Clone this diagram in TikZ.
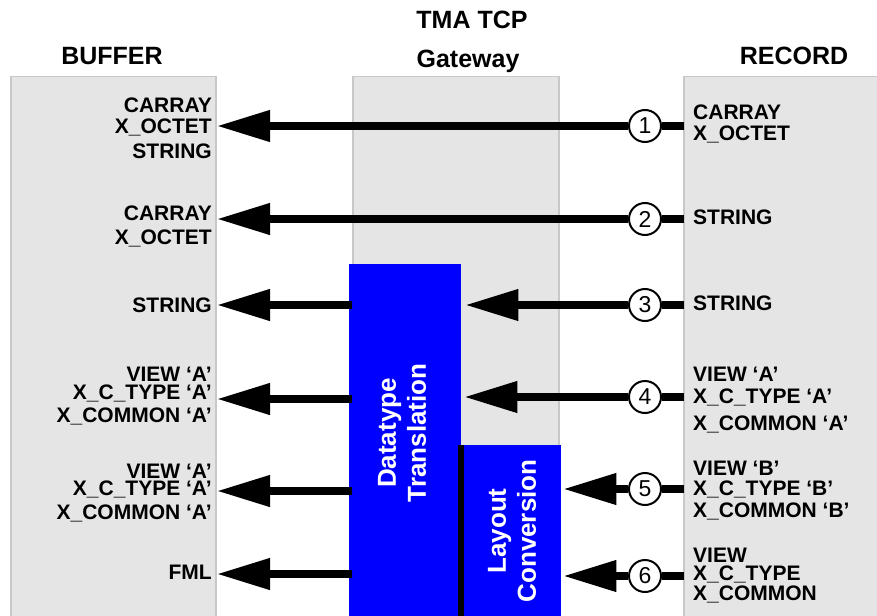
\documentclass[tikz,border=0pt]{standalone}
\usepackage{fontspec}
\setmainfont{Liberation Sans}
\usetikzlibrary{arrows.meta}

\definecolor{panelgray}{HTML}{E5E5E5}
\definecolor{panelline}{HTML}{C8C8C8}
\definecolor{stageblue}{HTML}{0000FF}

\newcommand\lblfont{\bfseries\fontsize{21}{18}\selectfont\lineskiplimit=-30pt\lineskip=0pt}

\begin{document}
\begin{tikzpicture}[x=1pt,y=-1pt,
		panel/.style={draw=panelline,fill=panelgray,line width=1.5pt,anchor=north west,minimum height=560pt},
		title/.style={font=\bfseries\fontsize{25}{25}\selectfont},
		bufl/.style={font=\lblfont,inner sep=0pt,anchor=north east,align=right},
		recl/.style={font=\lblfont,inner sep=0pt,anchor=north west,align=left},
		stage/.style={fill=stageblue,draw=none,anchor=north west,inner sep=0pt},
		stagetxt/.style={text=white,font=\bfseries\fontsize{26}{30}\selectfont,rotate=90,align=center},
		num/.style={circle,draw,line width=2pt,fill=white,inner sep=0pt,minimum size=32pt,font=\fontsize{23}{23}\selectfont},
		wire/.style={line width=7.5pt},
		bigarrow/.style={wire,-{Triangle[length=53pt,width=30pt]}}]
		\useasboundingbox (0,0) rectangle (877,615);
		\clip (0,0) rectangle (877,615);
		% panels and titles
		\node[panel,minimum width=205pt] (bufpanel) at (10,76) {};
		\node[panel,minimum width=206pt] (gwpanel) at (352,76) {};
		\node[panel,minimum width=210pt] (recpanel) at (683,76) {};
		\node[title] (buftitle) at (112,56) {BUFFER};
		\node[title] (gwtitle) at (472,20) {TMA TCP};
		\node[title] (gwsub) at (468,61) {Gateway};
		\node[title] (rectitle) at (794,56) {RECORD};
		% gateway stages
		\node[stage,minimum width=112pt,minimum height=360pt] (dtbox) at (349,264) {};
		\node[stage,minimum width=103pt,minimum height=180pt] (lcbox) at (458,445) {};
		\draw[line width=6pt] ([xshift=3pt]lcbox.north west) -- ([xshift=3pt]lcbox.south west);
		\node[stagetxt] (dttext) at (402,433) {Datatype\\Translation};
		\node[stagetxt] (lctext) at (512,531) {Layout\\Conversion};
		% buffer side
		\node[bufl] (lbuf1) at (212,97.5) {CARRAY\\[3pt]X\_OCTET\\[7pt]STRING};
		\node[bufl] (lbuf2) at (212,205.5) {CARRAY\\[6pt]X\_OCTET};
		\node[bufl] (lbuf3) at (212,297.5) {STRING};
		\node[bufl] (lbuf4) at (212,366.5) {VIEW ‘A’\\X\_C\_TYPE ‘A’\\[5pt]X\_COMMON ‘A’};
		\node[bufl] (lbuf5) at (212,463.5) {VIEW ‘A’\\[-1pt]X\_C\_TYPE ‘A’\\[6pt]X\_COMMON ‘A’};
		\node[bufl] (lbuf6) at (212,564.5) {FML};
		% record side
		\node[recl] (lrec1) at (693,105) {CARRAY\\[3pt]X\_OCTET};
		\node[recl] (lrec2) at (693,209.5) {STRING};
		\node[recl] (lrec3) at (693,295.5) {STRING};
		\node[recl] (lrec4) at (693,366.5) {VIEW ‘A’\\[4pt]X\_C\_TYPE ‘A’\\[9pt]X\_COMMON ‘A’};
		\node[recl] (lrec5) at (693,460.5) {VIEW ‘B’\\[2pt]X\_C\_TYPE ‘B’\\[4pt]X\_COMMON ‘B’};
		\node[recl] (lrec6) at (693,547.5) {VIEW\\X\_C\_TYPE\\[2pt]X\_COMMON};
		% arrow ends
		\coordinate (b1) at (217,126);
		\coordinate (b2) at (217,219);
		\coordinate (b3) at (217,305);
		\coordinate (b4) at (217,399);
		\coordinate (b5) at (217,491);
		\coordinate (b6) at (217,574);
		\coordinate (r1) at (684,126);
		\coordinate (r2) at (684,219);
		\coordinate (r3) at (684,305);
		\coordinate (r4) at (684,397);
		\coordinate (r5) at (684,489);
		\coordinate (r6) at (684,576);
		\node[num] (num1) at (645,126) {1};
		\node[num] (num2) at (645,219) {2};
		\node[num] (num3) at (645,305) {3};
		\node[num] (num4) at (645,397) {4};
		\node[num] (num5) at (645,489) {5};
		\node[num] (num6) at (645,576) {6};
		% connectors
		\draw[wire] (r1) -- (num1);
		\draw[bigarrow] (num1) -- (b1);
		\draw[wire] (r2) -- (num2);
		\draw[bigarrow] (num2) -- (b2);
		\draw[wire] (r3) -- (num3);
		\draw[bigarrow] (num3) -- ([xshift=4pt]dtbox.east |- num3);
		\draw[bigarrow] ([xshift=3pt]dtbox.west |- b3) -- (b3);
		\draw[wire] (r4) -- (num4);
		\draw[bigarrow] (num4) -- ([xshift=3pt]dtbox.east |- num4);
		\draw[bigarrow] ([xshift=3pt]dtbox.west |- b4) -- (b4);
		\draw[wire] (r5) -- (num5);
		\draw[bigarrow] (num5) -- ([xshift=2pt]lcbox.east |- num5);
		\draw[bigarrow] ([xshift=3pt]dtbox.west |- b5) -- (b5);
		\draw[wire] (r6) -- (num6);
		\draw[bigarrow] (num6) -- ([xshift=2pt]lcbox.east |- num6);
		\draw[bigarrow] ([xshift=3pt]dtbox.west |- b6) -- (b6);
\end{tikzpicture}
\end{document}
